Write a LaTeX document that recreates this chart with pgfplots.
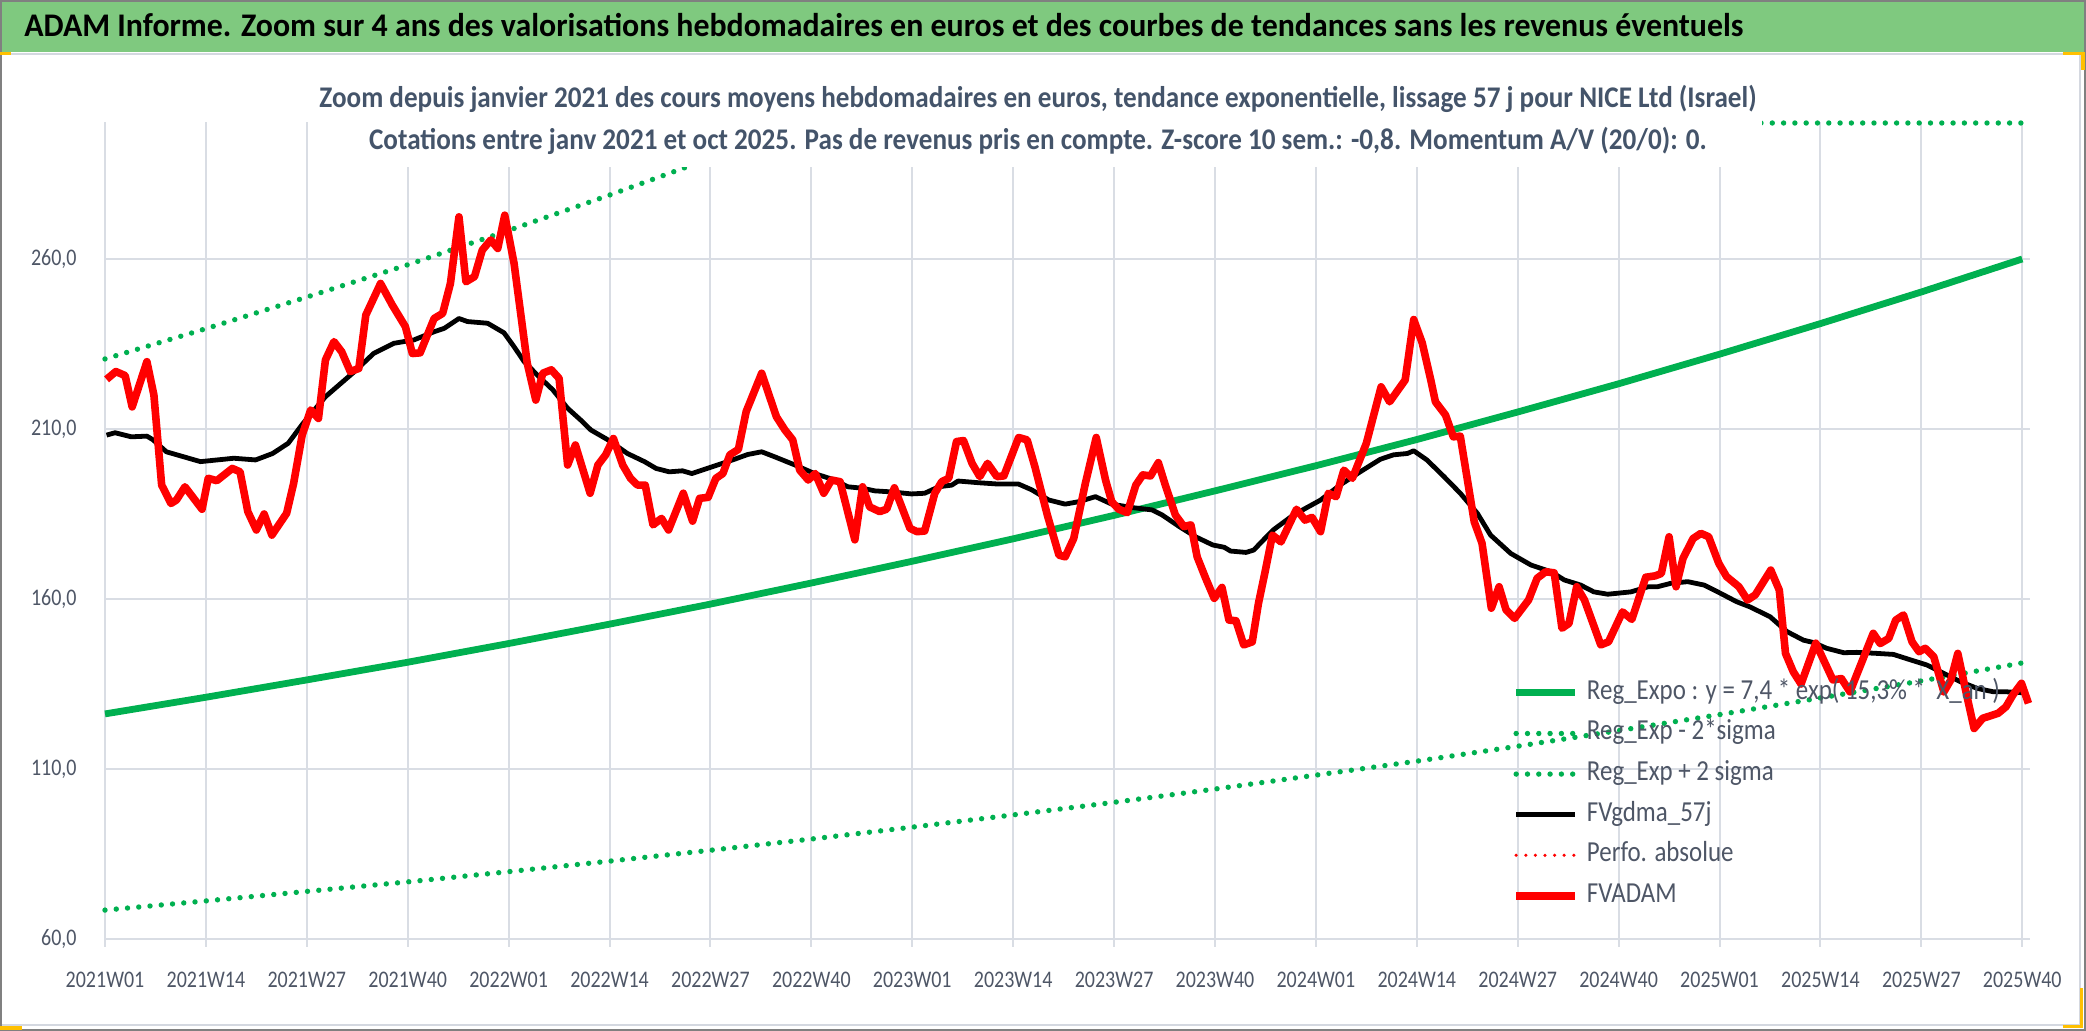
\documentclass[border=0pt]{standalone}
\usepackage{fontspec}
\setmainfont{Carlito}[FakeStretch=0.84]
\newfontfamily\bannerfont{Carlito}[FakeStretch=0.966]
\newfontfamily\subfont{Carlito}[FakeStretch=0.905]
\newfontfamily\legfont{Carlito}[FakeStretch=0.86]
\usepackage{pgfplots}
\pgfplotsset{compat=1.18}
\definecolor{bannerg}{RGB}{127,201,127}
\definecolor{gr}{RGB}{0,176,80}
\definecolor{gridc}{RGB}{217,221,228}
\definecolor{labelc}{RGB}{78,86,102}
\definecolor{titlec}{RGB}{68,84,106}
\definecolor{framec}{RGB}{128,128,128}
\definecolor{framel}{RGB}{212,216,224}
\definecolor{handle}{RGB}{255,192,0}
\begin{document}
\begin{tikzpicture}
\useasboundingbox (-52.5pt,-46pt) rectangle (990.5pt,469.5pt);
\begin{axis}[
  at={(0pt,0pt)}, anchor=south west,
  scale only axis, width=962.5pt, height=408.5pt,
  xmin=0, xmax=248, ymin=60, ymax=300.3,
  clip=false,
  axis line style={draw=none},
  xtick={0,13,...,247},
  xticklabels={2021W01,2021W14,2021W27,2021W40,2022W01,2022W14,2022W27,2022W40,2023W01,2023W14,2023W27,2023W40,2024W01,2024W14,2024W27,2024W40,2025W01,2025W14,2025W27,2025W40},
  ytick={60,110,160,210,260},
  yticklabels={{60,0},{110,0},{160,0},{210,0},{260,0}},
  grid=major, major grid style={draw=gridc, line width=1pt},
  tick pos=left, tick align=outside, major tick length=4pt,
  xtick style={draw=gridc, line width=1pt}, ytick style={draw=none},
  tick label style={font=\fontsize{11.9}{14}\selectfont, text=labelc},
  xticklabel style={anchor=base, yshift=-20.5pt},
  yticklabel style={anchor=east, inner sep=0pt, xshift=-10pt},
  legend image code/.code={\draw[#1] (0pt,0pt) -- (29.5pt,0pt);},
  legend cell align=left,
  legend style={at={(0.7309,0.3207)}, anchor=north west, draw=none, fill=none,
    inner sep=0pt, font=\legfont\fontsize{14.5}{16}\selectfont, text=labelc,
    column sep=3pt, row sep=4.8pt,
    nodes={inner sep=1pt, text height=10pt, text depth=3.5pt}},
]
% Reg_Expo
\addplot[color=gr, line width=3.4pt] coordinates {
(0,126.2)(13,131.1)(26,136.2)(39,141.4)(52,146.9)(65,152.6)(78,158.5)(91,164.7)(104,171.1)(117,177.7)
(130,184.6)(143,191.8)(156,199.2)(169,206.9)(182,215.0)(195,223.3)(208,232.0)(221,241.0)(234,250.3)(247,260.0)};
\addlegendentry{Reg\_Expo : y = 7,4 * exp( 15,3\% *\ \ X\_an )}
% lower band
\addplot[color=gr, line width=2.7pt, line cap=round, dash pattern=on 0pt off 5.65pt] coordinates {
(0,68.5)(13,71.2)(26,74.0)(39,76.8)(52,79.8)(65,82.9)(78,86.1)(91,89.4)(104,92.9)(117,96.5)
(130,100.2)(143,104.1)(156,108.2)(169,112.3)(182,116.7)(195,121.3)(208,126.0)(221,130.9)(234,135.9)(247,141.2)};
\addlegendentry{Reg\_Exp - 2*sigma}
% upper band
\addplot[color=gr, line width=2.7pt, line cap=round, dash pattern=on 0pt off 5.65pt] coordinates {
(0,230.6)(13,239.5)(26,248.8)(39,258.3)(52,268.4)(65,278.8)(78,289.6)(89.9,300)(247,300)};
\addlegendentry{Reg\_Exp + 2 sigma}
% FVgdma_57j
\addplot[color=black, line width=2.4pt, line join=round] coordinates {
(0.2,208.2)(1.3,208.9)(3.4,207.7)(5.4,207.9)(6.2,206.8)(7.9,203.3)(12.3,200.4)(16.6,201.4)(19.4,200.9)(21.6,202.8)
(23.6,205.8)(25.5,211.6)(28.4,219.5)(32.1,226.8)(34.6,232.2)(37.2,235.2)(39.8,236.2)(42.4,238.6)(43.7,239.6)(45.6,242.5)
(46.7,241.6)(49.3,241.1)(51.4,238.3)(52.7,234.2)(54.0,229.8)(55.9,225.4)(57.7,221.5)(59.6,216.1)(61.3,212.6)(62.6,209.7)
(64.8,206.8)(67.3,202.8)(69.5,200.4)(71.0,198.4)(72.7,197.4)(74.4,197.7)(75.6,196.9)(78.5,199.1)(81.1,201.1)(82.8,202.5)
(84.6,203.3)(86.3,201.8)(88.9,199.4)(91.4,196.9)(94.0,195.0)(95.7,193.0)(97.5,192.6)(99.2,191.8)(101.3,191.5)(103.9,190.9)
(105.6,191.1)(107.4,193.0)(109.1,193.5)(109.9,194.7)(112.5,194.2)(115.1,193.8)(117.7,193.8)(119.4,192.1)(121.6,189.1)(123.7,187.9)
(125.4,188.6)(127.6,190.1)(129.7,187.9)(132.3,186.9)(134.9,186.2)(136.2,184.7)(138.4,181.3)(140.5,178.3)(142.7,175.9)(144.2,175.2)
(145.0,174.1)(147.0,173.7)(148.0,174.4)(149.0,176.8)(150.5,180.3)(153.1,184.7)(156.6,189.1)(159.1,193.5)(161.7,197.4)(164.3,201.1)
(166.0,202.4)(167.8,202.8)(168.6,203.6)(170.3,200.9)(172.5,196.0)(174.6,191.1)(176.8,185.2)(178.5,178.8)(181.1,173.4)(183.7,170.0)
(186.3,168.0)(188.0,165.6)(190.1,164.1)(191.8,162.1)(193.6,161.4)(196.6,162.1)(198.8,163.6)(200.0,163.6)(201.7,164.6)(203.9,165.1)
(206.0,164.1)(208.1,161.7)(210.2,159.2)(211.9,157.7)(214.5,154.8)(216.7,150.4)(218.8,147.9)(220.1,147.2)(221.8,145.5)(224.0,144.2)
(225.7,144.3)(228.3,144.0)(230.4,143.7)(232.6,142.1)(234.7,140.6)(236.9,138.1)(239.0,135.7)(241.2,133.7)(243.3,132.7)(245.0,132.7)
(247.2,132.4)};
\addlegendentry{FVgdma\_57j}
\addlegendimage{color=red, line width=1.75pt, line cap=round, dash pattern=on 0pt off 4.8pt}
\addlegendentry{Perfo. absolue}
% FVADAM
\addplot[color=red, line width=3.8pt, line join=round] coordinates {
(0.2,224.6)(1.4,226.9)(2.6,225.7)(3.5,216.5)(5.4,229.8)(6.3,220.0)(7.3,193.5)(8.5,188.1)(9.2,189.1)(10.3,193.0)
(12.5,186.4)(13.3,195.5)(14.4,194.8)(16.4,198.4)(17.4,197.4)(18.4,185.7)(19.5,180.3)(20.5,185.0)(21.5,178.8)(23.4,185.2)
(24.3,194.0)(25.4,208.2)(26.5,215.6)(27.5,213.1)(28.4,230.3)(29.5,235.7)(30.5,232.7)(31.6,226.9)(32.7,227.8)(33.6,243.5)
(35.5,252.8)(37.0,246.5)(38.7,240.1)(39.6,232.2)(40.6,232.4)(42.4,242.5)(43.5,244.0)(44.5,252.8)(45.6,272.4)(46.5,253.3)
(47.6,254.8)(48.6,262.6)(49.7,265.6)(50.6,263.1)(51.5,272.9)(52.7,258.7)(54.4,229.3)(55.5,218.5)(56.4,226.4)(57.5,227.4)
(58.5,224.9)(59.6,199.4)(60.6,205.3)(62.5,191.1)(63.5,199.4)(64.5,202.4)(65.5,207.2)(66.7,199.4)(67.7,195.5)(68.6,193.5)
(69.6,193.5)(70.6,181.8)(71.7,183.7)(72.6,180.3)(74.5,191.1)(75.7,182.9)(76.6,189.6)(77.7,189.9)(78.7,195.5)(79.6,196.9)
(80.5,202.4)(81.6,204.0)(82.6,215.1)(84.6,226.4)(86.5,213.6)(87.6,209.7)(88.6,206.8)(89.5,197.9)(90.6,195.0)(91.5,196.9)
(92.6,191.1)(93.6,195.0)(94.7,194.5)(96.6,177.4)(97.6,193.0)(98.5,187.1)(99.8,185.7)(100.7,186.4)(101.7,192.7)(103.7,180.8)
(104.6,179.8)(105.6,180.0)(106.9,191.1)(107.8,194.5)(108.7,195.5)(109.7,206.3)(110.6,206.6)(111.7,199.9)(112.7,196.0)(113.7,199.9)
(114.9,196.0)(115.8,196.2)(117.7,207.5)(118.8,206.8)(119.8,198.9)(121.4,184.7)(122.9,172.9)(123.7,172.4)(124.8,177.8)(126.3,194.0)
(127.7,207.5)(128.9,195.0)(129.7,188.6)(130.6,186.4)(131.7,185.4)(132.8,193.5)(133.7,196.5)(134.7,196.2)(135.7,200.1)(136.6,193.5)
(137.9,184.7)(139.0,181.3)(139.9,181.8)(140.7,172.4)(141.8,166.1)(142.9,160.2)(143.9,163.4)(144.8,153.8)(145.7,153.6)(146.7,146.5)
(147.8,147.4)(148.6,158.7)(149.5,168.5)(150.4,178.8)(151.5,176.8)(153.5,186.4)(154.6,183.2)(155.5,184.0)(156.6,179.8)(157.6,191.1)
(158.6,190.1)(159.6,197.9)(160.7,195.5)(162.5,205.8)(164.4,222.4)(165.5,218.0)(167.5,224.4)(168.6,242.2)(169.7,235.3)(170.8,224.4)
(171.4,218.0)(172.7,214.1)(173.7,207.7)(174.6,207.9)(176.4,182.7)(177.4,176.4)(178.6,157.3)(179.6,163.6)(180.5,156.8)(181.6,154.3)
(183.4,159.7)(184.5,166.1)(185.6,168.0)(186.7,167.7)(187.7,151.4)(188.6,152.8)(189.6,163.6)(190.6,159.7)(192.7,146.5)(193.7,147.4)
(195.5,156.2)(196.7,154.0)(198.5,166.4)(199.7,166.8)(200.5,167.5)(201.5,178.3)(202.4,163.6)(203.3,172.0)(204.6,177.8)(205.6,179.3)
(206.6,178.3)(207.9,170.5)(208.9,166.6)(210.5,163.6)(211.6,159.7)(212.6,161.2)(214.6,168.5)(215.7,162.6)(216.5,144.0)(217.5,138.6)
(218.5,135.0)(220.4,147.0)(222.6,136.2)(223.7,136.6)(224.8,132.7)(227.8,149.9)(228.7,146.9)(229.8,148.4)(230.7,153.8)(231.7,155.3)
(232.8,147.4)(233.7,144.5)(234.5,145.5)(235.6,143.0)(236.9,132.7)(237.8,136.2)(238.7,144.0)(239.7,133.2)(240.8,121.9)(241.9,124.9)
(243.9,126.4)(244.9,128.3)(245.8,131.8)(246.9,135.2)(247.8,129.3)};
\addlegendentry{FVADAM}
\end{axis}
% subtitle box covering grid
\fill[white] (104.5pt,386pt) rectangle (828.5pt,410.5pt);
\node[anchor=base, inner sep=0pt, text=titlec, font=\subfont\bfseries\fontsize{15}{17}\selectfont] at (466.5pt,415.75pt)
  {Zoom depuis janvier 2021 des cours moyens hebdomadaires en euros, tendance exponentielle, lissage 57 j pour NICE Ltd (Israel)};
\node[anchor=base, inner sep=0pt, text=titlec, font=\subfont\bfseries\fontsize{15}{17}\selectfont] at (466.5pt,394.5pt)
  {Cotations entre janv 2021 et oct 2025. Pas de revenus pris en compte. Z-score 10 sem.: -0,8. Momentum A/V (20/0): 0.};
% banner
\fill[bannerg] (-52.5pt,443.5pt) rectangle (990.5pt,469.5pt);
\node[anchor=base west, inner sep=0pt, text=black, font=\bannerfont\bfseries\fontsize{16.5}{19}\selectfont] at (-40.5pt,451pt)
  {ADAM Informe. Zoom sur 4 ans des valorisations hebdomadaires en euros et des courbes de tendances sans les revenus éventuels};
% frame lines
\draw[framel, line width=1pt] (-52.5pt,442.25pt) -- (987.25pt,442.25pt) -- (987.25pt,-43.25pt) -- (-52.5pt,-43.25pt);
\draw[framec, line width=1pt] (-52pt,-45.5pt) rectangle (990pt,469pt);
\fill[handle] (-52.5pt,443.5pt) rectangle (-47pt,442pt);
\fill[handle] (979pt,443.5pt) rectangle (990pt,442pt);
\fill[handle] (988pt,443.5pt) rectangle (990pt,434.5pt);
\fill[handle] (987.5pt,-24.5pt) rectangle (989pt,-44pt);
\fill[handle] (979pt,-43pt) rectangle (989pt,-44.5pt);
\fill[handle] (-52.5pt,-43.5pt) rectangle (-41.5pt,-45.5pt);
\end{tikzpicture}
\end{document}
